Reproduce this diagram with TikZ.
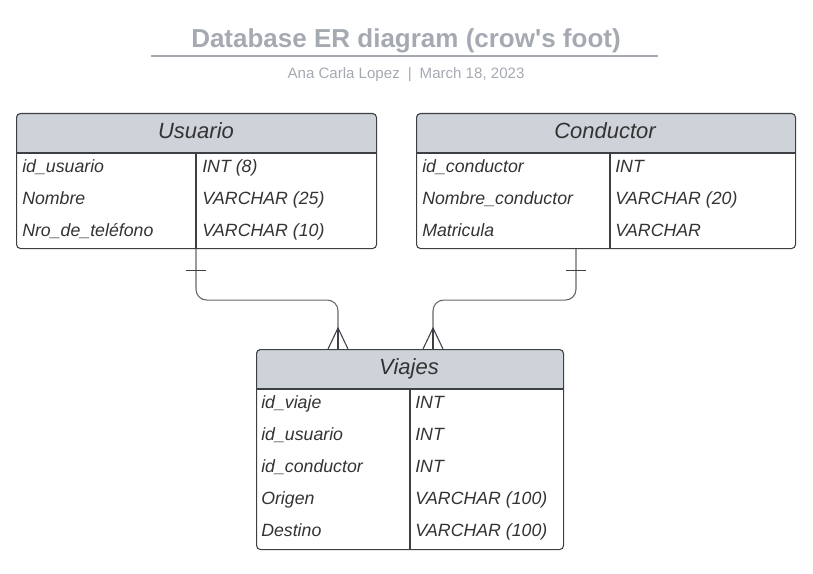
\documentclass[tikz,border=0pt]{standalone}
\usepackage{fontspec}
\setmainfont{Liberation Sans}
\usetikzlibrary{calc}
\definecolor{titlegray}{HTML}{A5AAB2}
\definecolor{hdrfill}{HTML}{CED3DA}
\definecolor{bordercol}{HTML}{3C3F44}
\definecolor{conncol}{HTML}{62666C}
\definecolor{txtcol}{HTML}{333333}
\tikzset{
  tablebox/.style={draw=bordercol, line width=0.8pt, rounded corners=3pt, inner sep=0pt, anchor=north west},
  hdrtext/.style={font=\fontsize{16.5}{19}\selectfont\itshape, text=txtcol, inner sep=0pt, anchor=base},
  rowtext/.style={font=\fontsize{13.3}{15}\selectfont\itshape, text=txtcol, anchor=base west, inner sep=0pt},
  conn/.style={draw=conncol, line width=0.8pt, rounded corners=8pt},
  markline/.style={draw=bordercol, line width=0.8pt},
  divline/.style={draw=bordercol, line width=0.8pt}
}
\begin{document}
\begin{tikzpicture}[x=0.75pt,y=-0.75pt]
\useasboundingbox (0,0) rectangle (813,574);
% title
\node[font=\fontsize{19.5}{22}\selectfont\bfseries, text=titlegray] (title) at (406,41) {Database ER diagram (crow\textquotesingle s foot)};
\draw[titlegray, line width=1.2pt] (151,56) -- (658,56);
\node[font=\fontsize{11.3}{13}\selectfont, text=titlegray] (sub) at (406,74.5) {Ana Carla Lopez\hspace{6pt}|\hspace{6pt}March 18, 2023};

% ---------- Usuario
\begin{scope}
\clip[rounded corners=3pt] (16,113) rectangle (376,248);
\fill[hdrfill] (16,113) rectangle (376,153);
\end{scope}
\node[tablebox, minimum width=270pt, minimum height=101.25pt] (usuario) at (16,113) {};
\draw[divline] (16,153) -- (376,153);
\draw[divline] (196,153) -- (196,248);
\node[hdrtext] (uh) at (196,138) {Usuario};
\node[rowtext] (u1a) at (22,172.5) {id\_usuario};
\node[rowtext] (u1b) at (202,172.5) {INT (8)};
\node[rowtext] (u2a) at (22,204.5) {Nombre};
\node[rowtext] (u2b) at (202,204.5) {VARCHAR (25)};
\node[rowtext] (u3a) at (22,236.5) {Nro\_de\_teléfono};
\node[rowtext] (u3b) at (202,236.5) {VARCHAR (10)};

% ---------- Conductor
\begin{scope}
\clip[rounded corners=3pt] (416,113) rectangle (795,248);
\fill[hdrfill] (416,113) rectangle (795,153);
\end{scope}
\node[tablebox, minimum width=284.25pt, minimum height=101.25pt] (conductor) at (416,113) {};
\draw[divline] (416,153) -- (795,153);
\draw[divline] (610,153) -- (610,248);
\node[hdrtext] (ch) at (605,138) {Conductor};
\node[rowtext] (c1a) at (422,172.5) {id\_conductor};
\node[rowtext] (c1b) at (615,172.5) {INT};
\node[rowtext] (c2a) at (422,204.5) {Nombre\_conductor};
\node[rowtext] (c2b) at (615,204.5) {VARCHAR (20)};
\node[rowtext] (c3a) at (422,236.5) {Matricula};
\node[rowtext] (c3b) at (615,236.5) {VARCHAR};

% ---------- Viajes
\begin{scope}
\clip[rounded corners=3pt] (256,349) rectangle (563,549);
\fill[hdrfill] (256,349) rectangle (563,389);
\end{scope}
\node[tablebox, minimum width=230.25pt, minimum height=150pt] (viajes) at (256,349) {};
\draw[divline] (256,389) -- (563,389);
\draw[divline] (410,389) -- (410,549);
\node[hdrtext] (vh) at (409,374) {Viajes};
\node[rowtext] (v1a) at (261,408.5) {id\_viaje};
\node[rowtext] (v1b) at (415,408.5) {INT};
\node[rowtext] (v2a) at (261,440.5) {id\_usuario};
\node[rowtext] (v2b) at (415,440.5) {INT};
\node[rowtext] (v3a) at (261,472.5) {id\_conductor};
\node[rowtext] (v3b) at (415,472.5) {INT};
\node[rowtext] (v4a) at (261,504.5) {Origen};
\node[rowtext] (v4b) at (415,504.5) {VARCHAR (100)};
\node[rowtext] (v5a) at (261,536.5) {Destino};
\node[rowtext] (v5b) at (415,536.5) {VARCHAR (100)};

% ---------- connectors
\coordinate (uend) at ($(usuario.south west)+(180,0)$);
\coordinate (vleft) at ($(viajes.north west)+(82,0)$);
\coordinate (cend) at ($(conductor.south west)+(160,0)$);
\coordinate (vright) at ($(viajes.north west)+(177,0)$);
\draw[conn] (uend) -- ++(0,51) -| (vleft);
\draw[conn] (cend) -- ++(0,51) -| (vright);
% one marks
\draw[markline] ($(uend)+(-10,21)$) -- ($(uend)+(10,21)$);
\draw[markline] ($(cend)+(-10,21)$) -- ($(cend)+(10,21)$);
% crow's feet
\draw[markline] ($(vleft)+(-10,0)$) -- ($(vleft)+(0,-21)$) -- ($(vleft)+(10,0)$);
\draw[markline] ($(vleft)+(0,-21)$) -- (vleft);
\draw[markline] ($(vright)+(-10,0)$) -- ($(vright)+(0,-21)$) -- ($(vright)+(10,0)$);
\draw[markline] ($(vright)+(0,-21)$) -- (vright);
\end{tikzpicture}
\end{document}
